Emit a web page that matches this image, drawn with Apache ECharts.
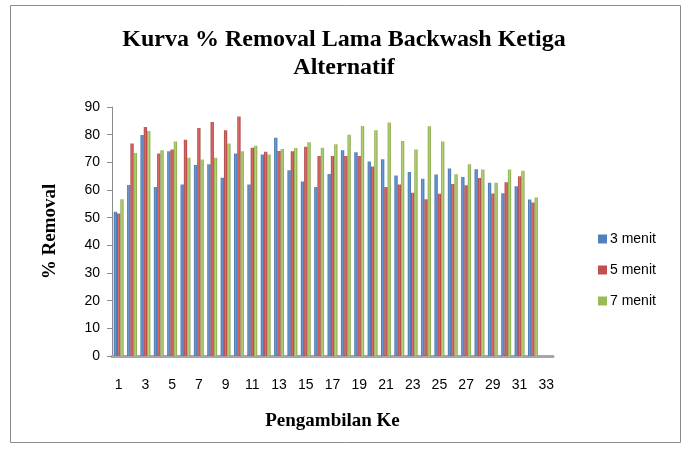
<!DOCTYPE html>
<html>
<head>
<meta charset="utf-8">
<script src="https://cdn.jsdelivr.net/npm/echarts@6/dist/echarts.min.js"></script>
<style>
html,body{margin:0;padding:0;background:#fff;}
#c{width:688px;height:453px;}
</style>
</head>
<body>
<div id="c"></div>
<script>
var categories = ['1','2','3','4','5','6','7','8','9','10','11','12','13','14','15','16','17','18','19','20','21','22','23','24','25','26','27','28','29','30','31','32','33'];
var menit3 = [52.1,61.8,79.9,61.1,74.0,62.0,69.0,69.3,64.4,73.2,62.0,72.8,78.9,67.1,63.1,61.1,65.8,74.4,73.6,70.3,71.1,65.2,66.5,64.1,65.6,67.8,64.7,67.5,62.6,58.8,61.4,56.6,null];
var menit5 = [51.5,76.8,82.8,73.2,74.6,78.2,82.4,84.6,81.6,86.6,75.3,73.8,74.1,74.0,75.6,72.3,72.3,72.3,72.3,68.5,61.1,62.0,59.0,56.7,58.6,62.2,61.7,64.3,58.7,62.8,65.0,55.5,null];
var menit7 = [56.7,73.4,81.3,74.4,77.5,71.7,71.0,71.7,76.8,74.0,76.0,72.8,74.8,75.2,77.3,75.3,76.5,80.0,83.1,81.6,84.4,77.7,74.6,83.0,77.5,65.7,69.3,67.4,62.6,67.4,67.0,57.3,null];
var seriesNames = ['3 menit','5 menit','7 menit'];
var yTicks = {min:0, max:90, interval:10};

function grad(c1, c2){
  return new echarts.graphic.LinearGradient(0,0,1,0,[{offset:0,color:c1},{offset:0.45,color:c2},{offset:1,color:c1}]);
}
var chart = echarts.init(document.getElementById('c'), null, {renderer:'canvas'});
var option = {
  animation:false,
  backgroundColor:'#ffffff',
  title:{
    text:'Kurva % Removal Lama Backwash Ketiga\nAlternatif',
    left:'center', top:21,
    textStyle:{fontFamily:'Liberation Serif', fontWeight:'bold', fontSize:24, lineHeight:28, color:'#000'}
  },
  graphic:[{type:'rect', shape:{x:10.5,y:5.5,width:670,height:437}, style:{fill:'none', stroke:'#8c8c8c', lineWidth:1}, z:-1}],
  legend:{
    orient:'vertical', left:593, top:227,
    itemWidth:9, itemHeight:9, itemGap:17,
    icon:'rect',
    textStyle:{fontFamily:'Liberation Sans', fontSize:14, color:'#000', padding:[0,0,0,-2]},
    data:seriesNames
  },
  grid:{left:112, top:107, width:441, height:249, containLabel:false},
  xAxis:{
    type:'category', data:categories,
    name:'Pengambilan Ke', nameLocation:'middle', nameGap:56,
    nameTextStyle:{fontFamily:'Liberation Serif', fontWeight:'bold', fontSize:19, color:'#000'},
    axisLine:{show:true, lineStyle:{color:'#a6a6a6', width:3}},
    axisTick:{show:false},
    axisLabel:{interval:1, fontFamily:'Liberation Sans', fontSize:14, color:'#000', margin:22}
  },
  yAxis:{
    type:'value', min:yTicks.min, max:yTicks.max, interval:yTicks.interval,
    name:'% Removal', nameLocation:'middle', nameGap:52, nameRotate:90,
    nameTextStyle:{fontFamily:'Liberation Serif', fontWeight:'bold', fontSize:19, color:'#000'},
    axisLine:{show:true, lineStyle:{color:'#8c8c8c', width:1}},
    axisTick:{show:true, inside:false, length:5, lineStyle:{color:'#8c8c8c'}},
    splitLine:{show:false},
    axisLabel:{fontFamily:'Liberation Sans', fontSize:14, color:'#000', margin:12}
  },
  series:[
    {name:seriesNames[0], type:'bar', data:menit3, barGap:'0%', barCategoryGap:'26%', itemStyle:{color:grad('#3f6fa8','#6e9ad6')}},
    {name:seriesNames[1], type:'bar', data:menit5, itemStyle:{color:grad('#a84340','#da6d6a')}},
    {name:seriesNames[2], type:'bar', data:menit7, itemStyle:{color:grad('#86a34a','#b6d476')}}
  ]
};
chart.setOption(option);
chart.setOption({legend:{data:[{name:seriesNames[0],itemStyle:{color:'#4F81BD'}},{name:seriesNames[1],itemStyle:{color:'#C0504D'}},{name:seriesNames[2],itemStyle:{color:'#9BBB59'}}]}});
</script>
</body>
</html>
